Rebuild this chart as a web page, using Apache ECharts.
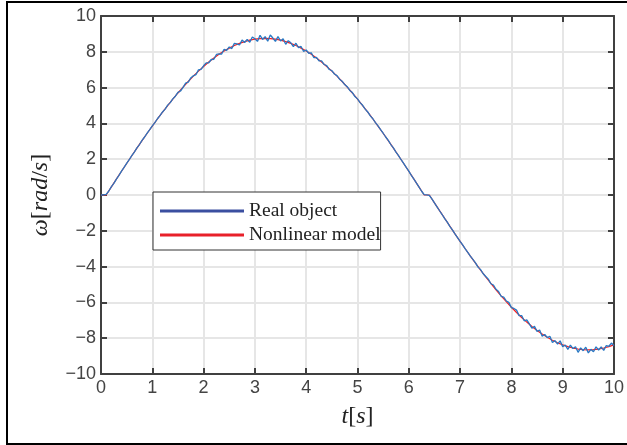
<!DOCTYPE html>
<html>
<head>
<meta charset="utf-8">
<script src="https://cdn.jsdelivr.net/npm/echarts@6/dist/echarts.min.js"></script>
<style>
  html, body { margin: 0; padding: 0; background: #fff; }
  #main { width: 627px; height: 445px; }
</style>
</head>
<body>
<div id="main"></div>
<script>
// sampling steps of the two recorded signals [s]
const dtModel = 0.1;
const dtReal = 0.05;

// nonlinear model, t = 0 .. 10 s
const modelOmega = [
  0, 0, 0.44, 0.885, 1.325, 1.761, 2.193, 2.619, 3.039, 3.45,
  3.853, 4.247, 4.628, 4.998, 5.355, 5.699, 6.028, 6.342, 6.64, 6.921,
  7.181, 7.428, 7.653, 7.858, 8.04, 8.205, 8.348, 8.47, 8.571, 8.649,
  8.705, 8.739, 8.75, 8.739, 8.705, 8.649, 8.571, 8.47, 8.348, 8.205,
  8.04, 7.858, 7.653, 7.428, 7.181, 6.921, 6.64, 6.342, 6.028, 5.699,
  5.355, 4.998, 4.628, 4.247, 3.853, 3.45, 3.039, 2.619, 2.193, 1.761,
  1.325, 0.885, 0.44, 0, 0, -0.438, -0.875, -1.31, -1.741, -2.168,
  -2.589, -3.004, -3.411, -3.809, -4.198, -4.575, -4.941, -5.294, -5.634, -5.959,
  -6.27, -6.564, -6.842, -7.099, -7.343, -7.565, -7.768, -7.948, -8.111, -8.253,
  -8.373, -8.474, -8.55, -8.605, -8.639, -8.65, -8.639, -8.605, -8.55, -8.474,
  -8.373
];

// measured object, t = 0 .. 10 s
const realOmega = [
  0, 0.01, 0.03, 0.21, 0.45, 0.65, 0.89, 1.1, 1.33, 1.54,
  1.77, 1.97, 2.2, 2.4, 2.63, 2.82, 3.05, 3.24, 3.46, 3.65,
  3.86, 4.04, 4.26, 4.43, 4.64, 4.8, 5.02, 5.16, 5.37, 5.52,
  5.73, 5.81, 6.01, 6.25, 6.3, 6.54, 6.66, 6.72, 6.99, 7.02,
  7.22, 7.38, 7.38, 7.57, 7.58, 7.85, 7.88, 7.87, 8.14, 8.08,
  8.27, 8.18, 8.47, 8.44, 8.38, 8.66, 8.52, 8.69, 8.53, 8.83,
  8.73, 8.58, 8.92, 8.69, 8.85, 8.59, 8.94, 8.77, 8.58, 8.85,
  8.61, 8.73, 8.42, 8.62, 8.5, 8.29, 8.48, 8.23, 8.3, 8.02,
  8.1, 7.92, 7.94, 7.67, 7.69, 7.49, 7.49, 7.29, 7.23, 7.01,
  6.95, 6.76, 6.67, 6.47, 6.36, 6.17, 6.05, 5.84, 5.72, 5.5,
  5.37, 5.16, 5.01, 4.8, 4.64, 4.42, 4.26, 4.04, 3.86, 3.65,
  3.45, 3.24, 3.05, 2.82, 2.63, 2.4, 2.2, 1.97, 1.77, 1.54,
  1.33, 1.1, 0.89, 0.66, 0.44, 0.21, 0.02, 0.01, -0.02, -0.22,
  -0.44, -0.66, -0.88, -1.09, -1.32, -1.52, -1.75, -1.95, -2.17, -2.38,
  -2.59, -2.79, -3.01, -3.2, -3.42, -3.6, -3.79, -4.03, -4.17, -4.4,
  -4.55, -4.7, -4.96, -5.03, -5.27, -5.39, -5.66, -5.7, -5.92, -6.0,
  -6.29, -6.34, -6.43, -6.74, -6.74, -7.03, -6.98, -7.2, -7.44, -7.34,
  -7.62, -7.54, -7.89, -7.79, -7.97, -7.89, -8.24, -8.13, -8.33, -8.15,
  -8.47, -8.38, -8.62, -8.39, -8.58, -8.48, -8.79, -8.54, -8.7, -8.5,
  -8.82, -8.62, -8.76, -8.48, -8.66, -8.49, -8.68, -8.41, -8.45, -8.27,
  -8.42
];

const seriesNames = ['Real object', 'Nonlinear model'];

window.addEventListener('load', function () {
  var chart = echarts.init(document.getElementById('main'), null, { renderer: 'canvas' });

  const axisColor = '#404040';
  const labelFont = 'Liberation Sans';
  const mathFont = 'Liberation Serif';
  const minus = v => String(v).replace('-', '\u2212');

  var modelData = modelOmega.map((v, i) => [+(i * dtModel).toFixed(2), v]);
  var realData = realOmega.map((v, i) => [+(i * dtReal).toFixed(2), v]);

  const boxAxis = {
    axisLine: { show: true, onZero: false, lineStyle: { color: axisColor, width: 2 } },
    axisTick: { show: true, inside: true, length: 6, lineStyle: { color: axisColor, width: 2 } },
    axisLabel: { show: false },
    splitLine: { show: false }
  };

  const mathRich = {
    i: { fontFamily: mathFont, fontSize: 24, fontStyle: 'italic', color: '#222' },
    u: { fontFamily: mathFont, fontSize: 24, color: '#222' }
  };

  chart.setOption({
    animation: false,
    backgroundColor: '#fff',
    grid: { left: 101, right: 7, top: 16, bottom: 71 },
    graphic: [{
      type: 'rect',
      shape: { x: 7, y: 2, width: 700, height: 442 },
      style: { fill: 'none', stroke: '#000', lineWidth: 2 },
      silent: true
    }],
    legend: {
      orient: 'vertical',
      left: 153,
      top: 192,
      padding: [9, 0, 5, 7],
      itemGap: 4,
      itemWidth: 84,
      itemHeight: 3,
      icon: 'rect',
      backgroundColor: '#fff',
      borderColor: '#333',
      borderWidth: 1,
      textStyle: { fontFamily: mathFont, fontSize: 19.5, color: '#222', lineHeight: 20 },
      data: [
        { name: seriesNames[0], itemStyle: { color: '#3b4fa0' } },
        { name: seriesNames[1], itemStyle: { color: '#e8202a' } }
      ]
    },
    xAxis: [{
      type: 'value', min: 0, max: 10, interval: 1,
      name: '{i|t}{u|[}{i|s}{u|]}',
      nameLocation: 'middle',
      nameGap: 31,
      nameTextStyle: { rich: mathRich },
      axisLine: { onZero: false, lineStyle: { color: axisColor, width: 2 } },
      axisTick: { inside: true, length: 6, lineStyle: { color: axisColor, width: 2 } },
      axisLabel: { color: '#444', fontFamily: labelFont, fontSize: 18, margin: 5 },
      splitLine: { show: true, lineStyle: { color: '#e6e6e6', width: 2 } }
    }, Object.assign({ type: 'value', position: 'top', min: 0, max: 10, interval: 1 }, boxAxis)],
    yAxis: [{
      type: 'value', min: -10, max: 10, interval: 2,
      name: '{i|\u03c9}{u|[}{i|rad}{u|/}{i|s}{u|]}',
      nameLocation: 'middle',
      nameRotate: 90,
      nameGap: 48,
      nameTextStyle: { rich: mathRich },
      axisLine: { onZero: false, lineStyle: { color: axisColor, width: 2 } },
      axisTick: { inside: true, length: 6, lineStyle: { color: axisColor, width: 2 } },
      axisLabel: { color: '#444', fontFamily: labelFont, fontSize: 18, margin: 5, formatter: minus },
      splitLine: { show: true, lineStyle: { color: '#e6e6e6', width: 2 } }
    }, Object.assign({ type: 'value', position: 'right', min: -10, max: 10, interval: 2 }, boxAxis)],
    series: [
      {
        name: seriesNames[1],
        type: 'line',
        data: modelData,
        showSymbol: false,
        color: '#e8202a',
        lineStyle: { width: 1.2, color: '#ff1a1a' },
        z: 2
      },
      {
        name: seriesNames[0],
        type: 'line',
        data: realData,
        showSymbol: false,
        color: '#3b4fa0',
        lineStyle: { width: 1.3, color: '#2878c4' },
        z: 3
      }
    ]
  });
});
</script>
</body>
</html>
